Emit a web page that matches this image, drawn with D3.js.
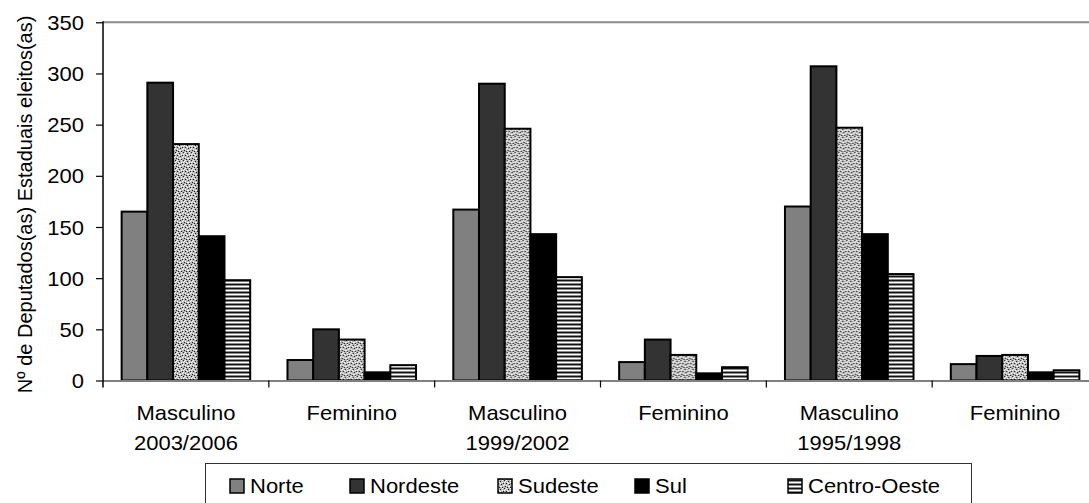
<!DOCTYPE html>
<html>
<head>
<meta charset="utf-8">
<script src="https://cdn.jsdelivr.net/npm/d3@7"></script>
<style>
  html, body { margin: 0; padding: 0; background: #fff; }
  svg { display: block; }
  text { font-family: "Liberation Sans", Arial, sans-serif; fill: #000; }
</style>
</head>
<body>
<svg id="chart" width="1089" height="503"></svg>
<script>
// Categories along the x axis (two-line labels)
const categories = ["Masculino\n2003/2006", "Feminino", "Masculino\n1999/2002", "Feminino", "Masculino\n1995/1998", "Feminino"];
const categoryKeys = ["m2003", "f2003", "m1999", "f1999", "m1995", "f1995"];

// Regions (series)
const series = ["Norte", "Nordeste", "Sudeste", "Sul", "Centro-Oeste"];

// Number of elected state deputies per region, in category order
const norte       = [165, 20, 167, 18, 170, 16];
const nordeste    = [291, 50, 290, 40, 307, 24];
const sudeste     = [231, 40, 246, 25, 247, 25];
const sul         = [141,  8, 143,  7, 143,  8];
const centroOeste = [ 98, 15, 101, 13, 104, 10];

const yTicks = [0, 50, 100, 150, 200, 250, 300, 350];
const yTitle = "Nº de Deputados(as) Estaduais eleitos(as)";

const valuesBySeries = { "Norte": norte, "Nordeste": nordeste, "Sudeste": sudeste, "Sul": sul, "Centro-Oeste": centroOeste };

// ---- layout ----
const svg = d3.select("#chart");
const plotLeft = 103, plotRight = 1098, plotTop = 22.3, plotBottom = 380.5;
const textScaleX = 1.1;   // text in this chart is slightly wide
const fontSize = 20;

// ---- fill patterns ----
const defs = svg.append("defs");

// Sudeste: fine speckle on light grey
const pSud = defs.append("pattern").attr("id", "pat-sudeste")
  .attr("patternUnits", "userSpaceOnUse").attr("width", 8).attr("height", 8);
pSud.append("rect").attr("width", 8).attr("height", 8).attr("fill", "#b8b8b8");
const darkDots  = [[0,0],[4,1],[7,3],[2,3],[5,4],[1,6],[6,7],[3,7]];
const lightDots = [[2,0],[6,0],[0,2],[4,3],[7,5],[2,5],[5,6],[1,1],[3,2],[6,2],[0,4],[4,6]];
darkDots.forEach(([x, y]) => pSud.append("rect").attr("x", x).attr("y", y).attr("width", 1).attr("height", 1).attr("fill", "#1a1a1a"));
lightDots.forEach(([x, y]) => pSud.append("rect").attr("x", x).attr("y", y).attr("width", 1).attr("height", 1).attr("fill", "#fff"));

// Centro-Oeste: horizontal stripes
const pCO = defs.append("pattern").attr("id", "pat-co")
  .attr("patternUnits", "userSpaceOnUse").attr("width", 4).attr("height", 4);
[["#111",0],["#8a8a8a",1],["#fff",2],["#8a8a8a",3]].forEach(([c,y]) =>
  pCO.append("rect").attr("x", 0).attr("y", y).attr("width", 4).attr("height", 1).attr("fill", c));

const fills = {
  "Norte": "#808080",
  "Nordeste": "#333333",
  "Sudeste": "url(#pat-sudeste)",
  "Sul": "#000000",
  "Centro-Oeste": "url(#pat-co)"
};

// ---- scales ----
const x0 = d3.scaleBand().domain(categoryKeys).range([plotLeft, plotRight]).paddingInner(0).paddingOuter(0);
const x1 = d3.scaleBand().domain(series).range([0, x0.bandwidth()]).paddingInner(0).paddingOuter(0.725);
const y = d3.scaleLinear().domain([0, 350]).range([plotBottom, plotTop]);

// top border of the plot area
svg.append("line")
  .attr("x1", plotLeft).attr("x2", plotRight).attr("y1", plotTop).attr("y2", plotTop)
  .attr("stroke", "#8c8c8c").attr("stroke-width", 2);

// ---- bars ----
const g = svg.append("g");
categoryKeys.forEach((key, ci) => {
  const cg = g.append("g").attr("transform", `translate(${x0(key)},0)`);
  series.forEach(s => {
    const v = valuesBySeries[s][ci];
    cg.append("rect")
      .attr("x", x1(s))
      .attr("y", y(v))
      .attr("width", x1.bandwidth())
      .attr("height", y(0) - y(v))
      .attr("fill", fills[s])
      .attr("stroke", "#000")
      .attr("stroke-width", 2);
  });
});

// ---- x axis ----
svg.append("line")
  .attr("x1", plotLeft).attr("x2", plotRight).attr("y1", plotBottom + 0.5).attr("y2", plotBottom + 0.5)
  .attr("stroke", "#808080").attr("stroke-width", 2);

const boundaries = categoryKeys.map(k => x0(k)).concat([x0(categoryKeys[categoryKeys.length - 1]) + x0.bandwidth()]);
svg.append("g").selectAll("line").data(boundaries.slice(1)).join("line")
  .attr("x1", d => d).attr("x2", d => d)
  .attr("y1", plotBottom).attr("y2", plotBottom + 7)
  .attr("stroke", "#000").attr("stroke-width", 1.2);

const xl = svg.append("g");
categoryKeys.forEach((key, ci) => {
  const cx = x0(key) + x0.bandwidth() / 2;
  categories[ci].split("\n").forEach((line, li) => {
    xl.append("text")
      .attr("transform", `translate(${cx},${420 + li * 30}) scale(${textScaleX},1)`)
      .attr("text-anchor", "middle")
      .attr("font-size", fontSize)
      .text(line);
  });
});

// ---- y axis ----
const yAxis = d3.axisLeft(y).tickValues(yTicks).tickSize(7).tickPadding(12).tickFormat(d3.format("d"));
const ya = svg.append("g").attr("transform", `translate(${plotLeft},0)`).call(yAxis);
ya.select(".domain").remove();
ya.selectAll(".tick line").attr("stroke", "#000").attr("stroke-width", 1.2);
ya.selectAll(".tick text")
  .attr("font-size", fontSize)
  .attr("font-family", "Liberation Sans, Arial, sans-serif")
  .attr("fill", "#000")
  .attr("x", null).attr("dy", null)
  .attr("dominant-baseline", "central")
  .attr("transform", `translate(-19,0) scale(${textScaleX},1)`);
svg.append("line")
  .attr("x1", plotLeft).attr("x2", plotLeft).attr("y1", plotTop - 1).attr("y2", plotBottom + 7)
  .attr("stroke", "#000").attr("stroke-width", 1.5);

svg.append("text")
  .attr("transform", `translate(32,${(plotTop + plotBottom) / 2 + 3}) rotate(-90)`)
  .attr("text-anchor", "middle")
  .attr("font-size", fontSize)
  .text(yTitle);

// ---- legend ----
const legend = svg.append("g");
legend.append("rect")
  .attr("x", 205.5).attr("y", 463.5).attr("width", 766).attr("height", 60)
  .attr("fill", "#fff").attr("stroke", "#333").attr("stroke-width", 1);
const legendX = [230, 350, 498, 635, 788];
series.forEach((s, i) => {
  legend.append("rect")
    .attr("x", legendX[i]).attr("y", 479).attr("width", 14).attr("height", 14)
    .attr("fill", fills[s]).attr("stroke", "#000").attr("stroke-width", 1.5);
  legend.append("text")
    .attr("transform", `translate(${legendX[i] + 20},493) scale(${textScaleX},1)`)
    .attr("font-size", fontSize)
    .text(s);
});
</script>
</body>
</html>
